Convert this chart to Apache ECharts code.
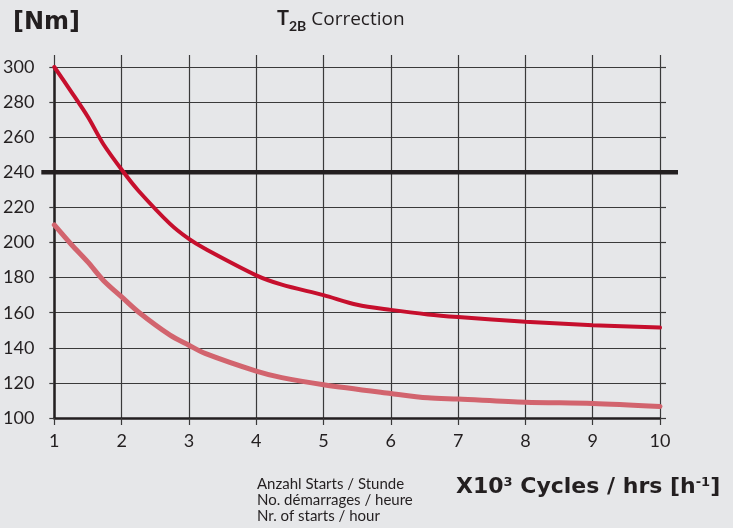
<!DOCTYPE html>
<html>
<head>
<meta charset="utf-8">
<script src="https://cdn.jsdelivr.net/npm/echarts@6/dist/echarts.min.js"></script>
<style>
html,body{margin:0;padding:0;background:#e6e7e9;}
#c{width:733px;height:528px;}
</style>
</head>
<body>
<div id="c"></div>
<script>
// Data
var upperX = [1, 1.25, 1.5, 1.73, 2.03, 2.25, 2.72, 3, 3.24, 4, 4.38, 5, 5.5, 6, 6.55, 7, 8, 9, 10];
var upperY = [300, 286, 271.5, 256, 240, 229.5, 210.6, 202, 196.4, 181.3, 176, 170, 164.5, 161.6, 159, 157.5, 154.8, 152.9, 151.5];
var lowerX = [1, 1.25, 1.5, 1.73, 2, 2.25, 2.72, 3, 3.24, 4, 4.38, 5, 6, 6.55, 7, 8, 9, 10];
var lowerY = [210, 199, 188.8, 178.4, 169, 160.4, 147.2, 141.5, 136.8, 126.7, 123, 119, 114, 111.5, 110.8, 109, 108.3, 106.6];
var refValue = 240;
var xMin = 1, xMax = 10, xStep = 1;
var yMin = 100, yMax = 300, yStep = 20;
var titleMain = 'T', titleSub = '2B', titleRest = ' Correction';
var unitLabel = '[Nm]';
var subLines = ['Anzahl Starts / Stunde', 'No. démarrages / heure', 'Nr. of starts / hour'];

function pairs(xs, ys) { return xs.map(function (x, i) { return [x, ys[i]]; }); }

var FONT = 'Lato, "Open Sans", sans-serif';
var WIDE = '"DejaVu Sans", sans-serif';
var INK = '#231f20';
var GRID = '#3a3a3a';

var chart = echarts.init(document.getElementById('c'), null, {renderer: 'canvas'});
chart.setOption({
  backgroundColor: '#e6e7e9',
  animation: false,
  grid: {left: 53, right: 73, top: 67, bottom: 110},
  xAxis: [{
    type: 'value', position: 'bottom', min: xMin, max: xMax, interval: xStep,
    axisLine: {show: true, lineStyle: {color: INK, width: 2.5}},
    axisTick: {show: true, length: 7, lineStyle: {color: GRID, width: 1.2}},
    axisLabel: {margin: 14, color: INK, fontSize: 18, fontFamily: FONT},
    splitLine: {show: true, lineStyle: {color: GRID, width: 1.2}}
  }, {
    type: 'value', position: 'top', min: xMin, max: xMax, interval: xStep,
    axisLine: {show: false},
    axisTick: {show: true, length: 12, lineStyle: {color: GRID, width: 1.2}},
    axisLabel: {show: false}, splitLine: {show: false}
  }],
  yAxis: [{
    type: 'value', position: 'left', min: yMin, max: yMax, interval: yStep,
    axisLine: {show: true, lineStyle: {color: INK, width: 2.5}},
    axisTick: {show: true, length: 5, lineStyle: {color: GRID, width: 1.2}},
    axisLabel: {margin: 20, color: INK, fontSize: 18, fontFamily: FONT},
    splitLine: {show: true, lineStyle: {color: GRID, width: 1.2}}
  }, {
    type: 'value', position: 'right', min: yMin, max: yMax, interval: yStep,
    axisLine: {show: false},
    axisTick: {show: true, length: 6, lineStyle: {color: GRID, width: 1.2}},
    axisLabel: {show: false}, splitLine: {show: false}
  }],
  series: [{
    type: 'line', xAxisIndex: 0, yAxisIndex: 0,
    data: pairs(lowerX, lowerY), smooth: 0.3, showSymbol: false, symbol: 'none',
    lineStyle: {color: '#d2646e', width: 5, cap: 'round'}, z: 4
  }, {
    type: 'line', xAxisIndex: 0, yAxisIndex: 0,
    data: pairs(upperX, upperY), smooth: 0.3, showSymbol: false, symbol: 'none',
    lineStyle: {color: '#c60f2d', width: 4, cap: 'round'}, z: 5
  }]
});

// Reference line (240) extends slightly beyond the plot on both sides
var pL = chart.convertToPixel({xAxisIndex: 0, yAxisIndex: 0}, [xMin, refValue]);
var pR = chart.convertToPixel({xAxisIndex: 0, yAxisIndex: 0}, [xMax, refValue]);

chart.setOption({
  graphic: [{
    type: 'line', z: 3,
    shape: {x1: pL[0] - 13, y1: pL[1], x2: pR[0] + 18, y2: pR[1]},
    style: {stroke: INK, lineWidth: 4.5}
  }, {
    type: 'text', left: 13, top: 11,
    style: {text: unitLabel, fill: INK, font: 'bold 24px ' + WIDE}
  }, {
    type: 'text', left: 277, top: 9,
    style: {
      text: '{a|' + titleMain + '}{b|' + titleSub + '}{c|' + titleRest + '}',
      rich: {
        a: {fontSize: 20, fontWeight: 'bold', fill: INK, fontFamily: FONT, lineHeight: 24, verticalAlign: 'bottom'},
        b: {fontSize: 14, fontWeight: 'bold', fill: INK, fontFamily: FONT, lineHeight: 24, verticalAlign: 'bottom', padding: [0, 0, -4, 0]},
        c: {fontSize: 19, fontWeight: 'normal', fill: INK, fontFamily: '"Open Sans", sans-serif', lineHeight: 24, verticalAlign: 'bottom'}
      }
    }
  }, {
    type: 'text', left: 257, top: 476,
    style: {text: subLines.join('\n'), fill: INK, font: '15px ' + FONT, lineHeight: 16}
  }, {
    type: 'text', left: 456, top: 473,
    style: {
      text: '{a|X10}{s|3}{a| Cycles / hrs [h}{s|-1}{a|]}',
      rich: {
        a: {fontSize: 22, fontWeight: 'bold', fill: INK, fontFamily: WIDE, lineHeight: 28, verticalAlign: 'middle'},
        s: {fontSize: 13, fontWeight: 'bold', fill: INK, fontFamily: WIDE, lineHeight: 28, verticalAlign: 'top', padding: [3, 0, 0, 0]}
      }
    }
  }]
});
</script>
</body>
</html>
